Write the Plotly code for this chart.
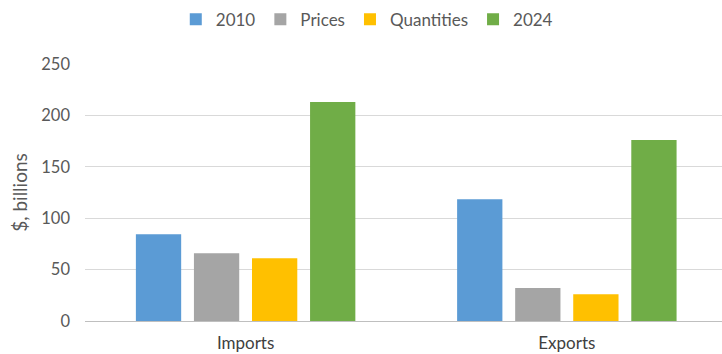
import plotly.graph_objects as go

categories = ["Imports", "Exports"]
series_names = ["2010", "Prices", "Quantities", "2024"]
values_2010 = [84.5, 118.5]
values_prices = [66, 32]
values_quantities = [61, 26]
values_2024 = [213, 176]
colors = ["#5b9bd5", "#a5a5a5", "#ffc000", "#70ad47"]

fig = go.Figure()
for name, vals, col in zip(series_names,
                           [values_2010, values_prices, values_quantities, values_2024],
                           colors):
    fig.add_trace(go.Bar(x=categories, y=vals, name=name, marker_color=col,
                         marker_line_width=0))

font_family = "Lato, 'Open Sans', sans-serif"
fig.update_layout(
    width=722, height=354,
    margin=dict(l=85, r=0, t=64, b=33),
    paper_bgcolor="white", plot_bgcolor="white",
    barmode="group", bargap=0.277, bargroupgap=0.22,
    font=dict(family=font_family, size=15, color="#595959"),
    showlegend=True,
    legend=dict(orientation="h", x=0.508, xanchor="center", y=0.995, yanchor="top",
                yref="container", xref="container", font=dict(size=17, color="#595959"),
                traceorder="normal", itemwidth=30),
    xaxis=dict(range=[-0.5, 1.483], showgrid=False, zeroline=False, showline=False,
               tickfont=dict(size=17, color="#404040"), ticks="",
               ticklabelstandoff=10),
    yaxis=dict(range=[0, 250], dtick=50, showgrid=True, gridcolor="#d9d9d9",
               gridwidth=1, zeroline=True, zerolinecolor="#bfbfbf", zerolinewidth=1,
               showline=False, tickfont=dict(size=16.5, color="#595959"), ticks="",
               ticklabelstandoff=14,
               title=dict(text="$, billions", font=dict(size=19, color="#595959"),
                          standoff=8)),
)
fig.write_html("out.html")
